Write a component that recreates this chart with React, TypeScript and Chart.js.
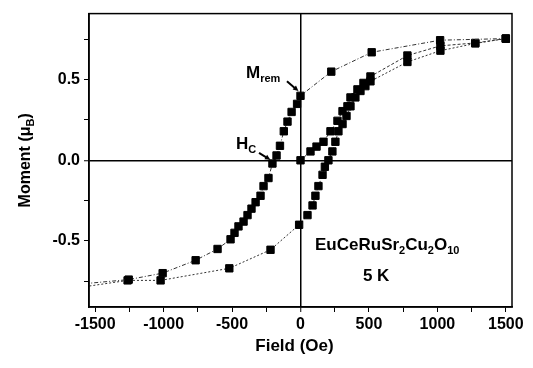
import React, { useEffect, useRef } from 'react';
import { Chart, registerables } from 'chart.js';

Chart.register(...registerables);

// ---- Data (field in Oe, moment in μB) ----
const virginField = [0, 73, 117, 168, 219, 270, 307, 343, 365, 416, 460, 511, 781, 1022, 1277, 1500];
const virginMoment = [0, 0.055, 0.085, 0.115, 0.18, 0.245, 0.305, 0.335, 0.39, 0.44, 0.48, 0.52, 0.65, 0.71, 0.728, 0.755];

const descField = [1500, 1020, 520, 225, 0, -25, -65, -95, -122, -150, -175, -205, -234, -270, -292, -328, -358, -387, -416, -453, -482, -511, -606, -766, -1007, -1255, -1600];
const descMoment = [0.755, 0.745, 0.67, 0.55, 0.40, 0.35, 0.30, 0.24, 0.18, 0.09, 0.03, -0.02, -0.11, -0.16, -0.22, -0.26, -0.30, -0.34, -0.38, -0.41, -0.45, -0.49, -0.55, -0.62, -0.70, -0.74, -0.767];

const ascField = [-1600, -1263, -1022, -520, -219, -10, 51, 88, 109, 131, 161, 178, 204, 233, 255, 277, 307, 336, 365, 401, 438, 474, 511, 781, 1022, 1277, 1500];
const ascMoment = [-0.787, -0.745, -0.745, -0.67, -0.555, -0.40, -0.34, -0.28, -0.22, -0.16, -0.09, -0.04, 0.0, 0.055, 0.115, 0.18, 0.225, 0.275, 0.335, 0.39, 0.43, 0.46, 0.49, 0.61, 0.68, 0.725, 0.755];

const xMajorTicks = [-1500, -1000, -500, 0, 500, 1000, 1500];
const yMajorTicks = [-0.5, 0, 0.5];

const FONT = '"Liberation Sans", Arial, Helvetica, sans-serif';
const WEIGHT = 'bold';

type Seg = { t: string; sub?: boolean };

function toPoints(xs: number[], ys: number[]) {
  return xs.map((x, i) => ({ x, y: ys[i] }));
}

function drawRich(ctx: CanvasRenderingContext2D, segs: Seg[], x: number, y: number, size: number, weight: string, align: 'left' | 'center') {
  const subSize = Math.round(size * 0.66);
  const widths = segs.map((s) => {
    ctx.font = `${weight} ${s.sub ? subSize : size}px ${FONT}`;
    return ctx.measureText(s.t).width;
  });
  const total = widths.reduce((a, b) => a + b, 0);
  let cx = align === 'center' ? x - total / 2 : x;
  ctx.textAlign = 'left';
  ctx.textBaseline = 'alphabetic';
  segs.forEach((s, i) => {
    ctx.font = `${weight} ${s.sub ? subSize : size}px ${FONT}`;
    ctx.fillText(s.t, cx, s.sub ? y + size * 0.24 : y);
    cx += widths[i];
  });
}

function arrow(ctx: CanvasRenderingContext2D, x1: number, y1: number, x2: number, y2: number) {
  const ang = Math.atan2(y2 - y1, x2 - x1);
  const head = 6;
  ctx.beginPath();
  ctx.moveTo(x1, y1);
  ctx.lineTo(x2 - Math.cos(ang) * head * 0.8, y2 - Math.sin(ang) * head * 0.8);
  ctx.lineWidth = 2;
  ctx.stroke();
  ctx.beginPath();
  ctx.moveTo(x2, y2);
  ctx.lineTo(x2 - head * Math.cos(ang - 0.45), y2 - head * Math.sin(ang - 0.45));
  ctx.lineTo(x2 - head * Math.cos(ang + 0.45), y2 - head * Math.sin(ang + 0.45));
  ctx.closePath();
  ctx.fill();
}

const overlayPlugin = {
  id: 'overlay',
  afterDraw(chart: any) {
    const { ctx, chartArea: a, scales } = chart;
    const X = (v: number) => scales.x.getPixelForValue(v);
    const Y = (v: number) => scales.y.getPixelForValue(v);
    ctx.save();
    ctx.strokeStyle = '#000';
    ctx.fillStyle = '#000';
    ctx.lineWidth = 1.5;
    ctx.strokeRect(a.left, a.top, a.right - a.left, a.bottom - a.top);

    // annotations
    drawRich(ctx, [{ t: 'M' }, { t: 'rem', sub: true }], X(-398), Y(0.508), 17, WEIGHT, 'left');
    arrow(ctx, X(-99), Y(0.49), X(-15), Y(0.43));
    drawRich(ctx, [{ t: 'H' }, { t: 'C', sub: true }], X(-471), Y(0.07), 17, WEIGHT, 'left');
    arrow(ctx, X(-303), Y(0.046), X(-220), Y(0.003));
    drawRich(ctx, [
      { t: 'EuCeRuSr' }, { t: '2', sub: true }, { t: 'Cu' }, { t: '2', sub: true }, { t: 'O' }, { t: '10', sub: true },
    ], X(106), Y(-0.557), 17, WEIGHT, 'left');
    drawRich(ctx, [{ t: '5 K' }], X(456), Y(-0.746), 17, WEIGHT, 'left');

    // axis titles
    drawRich(ctx, [{ t: 'Field (Oe)' }], (a.left + a.right) / 2 - 6, a.bottom + 44, 17, WEIGHT, 'center');
    ctx.save();
    ctx.translate(30, (a.top + a.bottom) / 2);
    ctx.rotate(-Math.PI / 2);
    drawRich(ctx, [{ t: 'Moment (μ' }, { t: 'B', sub: true }, { t: ')' }], 0, 0, 16, WEIGHT, 'center');
    ctx.restore();
    ctx.restore();
  },
};

export default function App() {
  const ref = useRef<HTMLCanvasElement | null>(null);

  useEffect(() => {
    if (!ref.current) return;
    const lineCommon = {
      showLine: true,
      borderColor: '#333',
      borderWidth: 1,
      pointStyle: 'rect',
      pointRadius: 5.2,
      pointBorderWidth: 1,
      pointBackgroundColor: '#000',
      pointBorderColor: '#000',
      tension: 0,
    };
    const chart = new Chart(ref.current, {
      type: 'scatter',
      data: {
        datasets: [
          { ...lineCommon, label: 'descending', data: toPoints(descField, descMoment), borderDash: [4, 2, 1, 2] },
          { ...lineCommon, label: 'ascending', data: toPoints(ascField, ascMoment), borderDash: [2, 2] },
          { ...lineCommon, label: 'virgin', data: toPoints(virginField, virginMoment), borderDash: [3, 2] },
        ],
      } as any,
      options: {
        animation: false,
        responsive: false,
        maintainAspectRatio: false,
        layout: { padding: { left: 0, top: 8, right: 21, bottom: 0 } },
        plugins: { legend: { display: false }, tooltip: { enabled: false } },
        scales: {
          x: {
            type: 'linear',
            min: -1545,
            max: 1545,
            afterFit: (s: any) => { s.height = 61; },
            border: { display: true, color: '#000', width: 1.5 },
            grid: {
              drawOnChartArea: true,
              color: (c: any) => (c.tick && c.tick.value === 0 ? '#000' : 'rgba(0,0,0,0)'),
              lineWidth: (c: any) => (c.tick && c.tick.value === 0 ? 1.5 : 1),
              tickColor: '#000',
              tickWidth: 1,
              tickLength: 5,
            },
            ticks: {
              stepSize: 250,
              includeBounds: false,
              autoSkip: false,
              maxRotation: 0,
              padding: 3,
              color: '#000',
              font: { family: FONT, size: 16, weight: WEIGHT },
              callback: (v: any) => (xMajorTicks.includes(Number(v)) ? String(v) : ''),
            },
          },
          y: {
            type: 'linear',
            min: -0.91,
            max: 0.91,
            afterFit: (s: any) => { s.width = 89; },
            border: { display: true, color: '#000', width: 1.5 },
            grid: {
              drawOnChartArea: true,
              color: (c: any) => (c.tick && Math.abs(c.tick.value) < 1e-9 ? '#000' : 'rgba(0,0,0,0)'),
              lineWidth: (c: any) => (c.tick && Math.abs(c.tick.value) < 1e-9 ? 1.5 : 1),
              tickColor: '#000',
              tickWidth: 1,
              tickLength: 5,
            },
            ticks: {
              stepSize: 0.25,
              includeBounds: false,
              autoSkip: false,
              padding: 4,
              color: '#000',
              font: { family: FONT, size: 16, weight: WEIGHT },
              callback: (v: any) => {
                const n = Number(v);
                const hit = yMajorTicks.find((t) => Math.abs(t - n) < 1e-9);
                return hit === undefined ? '' : hit.toFixed(1);
              },
            },
          },
        },
      } as any,
      plugins: [overlayPlugin],
    });
    return () => chart.destroy();
  }, []);

  return (
    <div style={{ position: 'fixed', left: 0, top: 0, width: 533, height: 368, background: '#fff' }}>
      <canvas ref={ref} width={533} height={368} style={{ width: 533, height: 368 }} />
    </div>
  );
}
